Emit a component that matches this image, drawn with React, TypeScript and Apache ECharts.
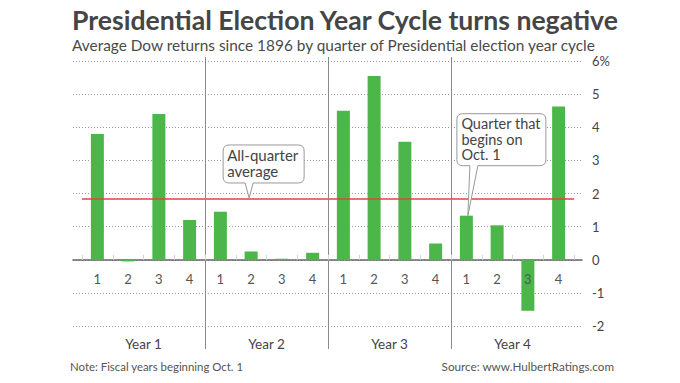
import React, { useEffect, useRef } from "react";
import * as echarts from "echarts";

const quarterLabels = ["1", "2", "3", "4", "1", "2", "3", "4", "1", "2", "3", "4", "1", "2", "3", "4"];
const yearLabels = ["Year 1", "Year 2", "Year 3", "Year 4"];
const returns = [3.8, -0.05, 4.4, 1.2, 1.45, 0.25, 0.03, 0.21, 4.5, 5.55, 3.56, 0.49, 1.33, 1.04, -1.54, 4.63];
const allQuarterAverage = 1.85;
const yMin = -2;
const yMax = 6;
const yStep = 1;

const titleText = "Presidential Election Year Cycle turns negative";
const subtitleText = "Average Dow returns since 1896 by quarter of Presidential election year cycle";
const noteText = "Note: Fiscal years beginning Oct. 1";
const sourceText = "Source: www.HulbertRatings.com";
const avgCallout = ["All-quarter", "average"];
const octCallout = ["Quarter that", "begins on", "Oct. 1"];

echarts.graphic.registerShape(
  "calloutAvg",
  echarts.graphic.extendPath(
    "M -20 -53 L 49 -53 Q 55 -53 55 -47 L 55 -21 Q 55 -15 49 -15 L 4 -15 L 0 0 L -4 -15 L -20 -15 Q -26 -15 -26 -21 L -26 -47 Q -26 -53 -20 -53 Z",
    {}
  )
);
echarts.graphic.registerShape(
  "calloutOct",
  echarts.graphic.extendPath(
    "M -5 -102 L 72 -102 Q 78 -102 78 -96 L 78 -56 Q 78 -50 72 -50 L 10 -50 L 0 0 L 2 -50 L -5 -50 Q -11 -50 -11 -56 L -11 -96 Q -11 -102 -5 -102 Z",
    {}
  )
);

const FONT = "Lato, 'Open Sans', sans-serif";

const PLOT_TOP = 61;
const PLOT_BOTTOM_GAP = 57;
const CHART_H = 383;
const zeroGap =
  PLOT_BOTTOM_GAP + ((CHART_H - PLOT_TOP - PLOT_BOTTOM_GAP) * (0 - yMin)) / (yMax - yMin);

export default function App() {
  const ref = useRef<HTMLDivElement>(null);
  useEffect(() => {
    if (!ref.current) return;
    const chart = echarts.init(ref.current, undefined, { renderer: "svg" });
    chart.setOption({
      animation: false,
      grid: [
        { left: 73, right: 98, top: PLOT_TOP, bottom: PLOT_BOTTOM_GAP },
        { left: 82, right: 106, top: PLOT_TOP, bottom: PLOT_BOTTOM_GAP },
        { left: 82, right: 106, top: PLOT_TOP, bottom: PLOT_BOTTOM_GAP },
        { left: 82, right: 106, top: PLOT_TOP, bottom: zeroGap },
      ],
      xAxis: [
        {
          gridIndex: 0,
          type: "value",
          min: 0,
          max: 1,
          axisLine: { show: true, onZero: true, lineStyle: { color: "#666", width: 1.5 } },
          axisTick: { show: false },
          axisLabel: { show: false },
          splitLine: { show: false },
        },
        {
          gridIndex: 1,
          type: "category",
          data: quarterLabels,
          show: false,
        },
        {
          gridIndex: 2,
          type: "category",
          data: yearLabels,
          position: "bottom",
          axisLine: { show: false, onZero: false },
          axisTick: { show: false },
          axisLabel: { interval: 0, margin: 11, fontSize: 13.5, color: "#444", fontFamily: FONT },
        },
        {
          gridIndex: 3,
          type: "category",
          data: quarterLabels,
          position: "bottom",
          z: 10,
          axisLine: { show: false, onZero: false },
          axisTick: { show: true, inside: true, length: 5, interval: 0, lineStyle: { color: "#d8d8d8" } },
          axisLabel: { interval: 0, margin: 13, fontSize: 13, color: "#555", fontFamily: FONT },
        },
      ],
      yAxis: [
        {
          gridIndex: 0,
          type: "value",
          position: "right",
          min: yMin,
          max: yMax,
          interval: yStep,
          axisLine: { show: false },
          axisTick: { show: false },
          axisLabel: {
            margin: 10,
            fontSize: 13,
            color: "#444",
            fontFamily: FONT,
            formatter: (v: number) => (v === yMax ? v + "%" : String(v)),
          },
          splitLine: { show: true, lineStyle: { color: "#999", type: [1, 2], width: 1 } },
        },
        { gridIndex: 1, type: "value", min: yMin, max: yMax, interval: yStep, show: false, splitLine: { show: false } },
        { gridIndex: 2, type: "value", min: yMin, max: yMax, interval: yStep, show: false, splitLine: { show: false } },
        { gridIndex: 3, type: "value", min: 0, max: yMax, interval: yStep, show: false, splitLine: { show: false } },
      ],
      series: [
        {
          type: "bar",
          xAxisIndex: 1,
          yAxisIndex: 1,
          data: returns,
          barWidth: 13,
          itemStyle: { color: "#4cb64a" },
          z: 3,
          markLine: {
            silent: true,
            symbol: "none",
            label: { show: false },
            lineStyle: { color: "#e0453c", width: 1.5, type: "solid" },
            data: [{ yAxis: allQuarterAverage }],
          },
        },
      ],
    });

    const xa = chart.convertToPixel({ xAxisIndex: 1 }, 0) as number;
    const xb = chart.convertToPixel({ xAxisIndex: 1 }, 1) as number;
    const step = xb - xa;
    const dividers: any[] = [];
    for (let i = 1; i < yearLabels.length; i++) {
      const x = Math.round((chart.convertToPixel({ xAxisIndex: 1 }, i * 4) as number) - step / 2) + 0.5;
      dividers.push({
        type: "line",
        shape: { x1: x, y1: 57, x2: x, y2: 349 },
        style: { stroke: "#8a8a8a", lineWidth: 1 },
        z: 5,
      });
    }
    const tipAvg = chart.convertToPixel({ seriesIndex: 0 }, [5, allQuarterAverage]) as number[];
    const tipOct = chart.convertToPixel({ seriesIndex: 0 }, [12, returns[12]]) as number[];
    const tAvgX = tipAvg[0] - 2;
    const tAvgY = tipAvg[1] - 0.5;
    const tOctX = tipOct[0] + 1.5;
    const tOctY = tipOct[1];

    const textStyle = (text: string, x: number, y: number, size: number, color: string, extra: any = {}) => ({
      type: "text",
      z: 20,
      style: {
        text,
        x,
        y,
        fontSize: size,
        fontFamily: FONT,
        fill: color,
        textVerticalAlign: "middle",
        ...extra,
      },
    });

    chart.setOption({
      graphic: [
        ...dividers,
        textStyle(titleText, 72, 20, 26.6, "#454545", { fontWeight: "bold" }),
        textStyle(subtitleText, 72, 45, 15.4, "#4a4a4a"),
        textStyle(noteText, 70, 366, 11.4, "#555"),
        textStyle(sourceText, 614, 366, 11.7, "#555", { textAlign: "right" }),
        {
          type: "calloutAvg",
          x: tAvgX,
          y: tAvgY,
          z: 15,
          style: { fill: "#fff", stroke: "#999", lineWidth: 1 },
        },
        ...avgCallout.map((t, i) => textStyle(t, tAvgX - 22, tAvgY - 43 + i * 16.5, 15, "#444")),
        {
          type: "calloutOct",
          x: tOctX,
          y: tOctY,
          z: 15,
          style: { fill: "#fff", stroke: "#999", lineWidth: 1 },
        },
        ...octCallout.map((t, i) => textStyle(t, tOctX - 6.5, tOctY - 92 + i * 15.5, 14.5, "#444")),
      ],
    });

    return () => chart.dispose();
  }, []);
  return <div ref={ref} style={{ position: "fixed", left: 0, top: 0, width: 680, height: 383, background: "#fff" }} />;
}
